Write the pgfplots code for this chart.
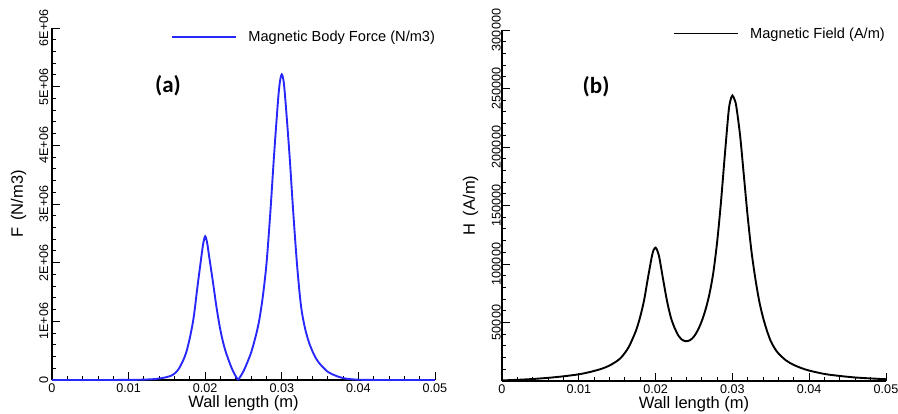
\documentclass[border=0pt]{standalone}
\usepackage{fontspec}
\setmainfont{Liberation Sans}
\newfontfamily\carlito{Carlito}
\usepackage{pgfplots}
\pgfplotsset{compat=1.18}
\definecolor{fblue}{RGB}{40,40,250}

\newcommand{\legfont}{\fontsize{14.6}{17}\selectfont}
\pgfplotsset{
 myaxis/.style={
  scale only axis,
  axis lines=left,
  axis line style={-, line width=1.3pt, black},
  tick align=inside,
  major tick length=8pt,
  minor tick length=4pt,
  tick style={black, line width=0.9pt},
  minor tick num=4,
  xmin=0, xmax=0.05,
  xtick={0,0.01,0.02,0.03,0.04,0.05},
  xticklabels={0,0.01,0.02,0.03,0.04,0.05},
  scaled x ticks=false, scaled y ticks=false,
  /pgf/number format/assume math mode=true,
  enlargelimits=false,
  clip=false,
  tick label style={font=\fontsize{12.6}{14}\selectfont},
  xticklabel style={inner sep=0pt, anchor=north, yshift=-3.8pt},
  yticklabel style={rotate=90, anchor=south, inner sep=0pt},
  legend style={draw=none, fill=none, inner sep=0pt, outer sep=0pt, column sep=11pt,
    font=\legfont, nodes={inner sep=0pt}},
  legend cell align=left,
 }
}

\pgfplotstableread{
x F
0 0
0.004 0
0.008 500
0.011 3000
0.013 12000
0.014 25000
0.015 50000
0.0155 70000
0.016 110000
0.0165 180000
0.017 300000
0.0175 460000
0.018 720000
0.0185 1070000
0.019 1600000
0.0195 2100000
0.01975 2330000
0.0200 2450000
0.02025 2340000
0.0205 2120000
0.021 1680000
0.0215 1220000
0.022 840000
0.0225 560000
0.023 360000
0.0235 190000
0.024 60000
0.0243 0
}\Fone

\pgfplotstableread{
x F
0.0243 0
0.0245 40000
0.025 150000
0.0255 300000
0.026 470000
0.0265 700000
0.027 980000
0.0275 1400000
0.028 1980000
0.0285 2850000
0.029 3850000
0.0295 4750000
0.02975 5080000
0.0300 5210000
0.03025 5080000
0.0305 4720000
0.031 3850000
0.0315 2850000
0.032 1950000
0.0325 1270000
0.033 900000
0.0335 660000
0.034 490000
0.0345 360000
0.035 270000
0.036 140000
0.037 75000
0.038 32000
0.039 14000
0.040 5000
0.042 800
0.046 0
0.050 0
}\Ftwo

\pgfplotstableread{
x H
0 500
0.002 1000
0.004 1700
0.006 2700
0.008 4000
0.010 5700
0.011 7000
0.012 8600
0.013 10500
0.014 13200
0.015 17200
0.0155 20000
0.016 24000
0.0165 29000
0.017 36000
0.0175 44000
0.018 55000
0.0185 69000
0.019 88000
0.0195 106000
0.01975 112000
0.020 114000
0.02025 111000
0.0205 105000
0.021 86000
0.0215 68000
0.022 54000
0.0225 45000
0.023 38500
0.0235 35000
0.024 34000
0.0245 35000
0.025 38000
0.0255 43500
0.026 51000
0.0265 61000
0.027 74000
0.0275 92000
0.028 118000
0.0285 152000
0.029 192000
0.0295 230000
0.02975 240000
0.030 244000
0.03025 241000
0.0305 235000
0.031 210000
0.0315 175000
0.032 140000
0.0325 110000
0.033 87000
0.0335 68000
0.034 54000
0.0345 43000
0.035 34000
0.0355 28000
0.036 23500
0.037 17500
0.038 13700
0.039 11000
0.040 8900
0.042 6000
0.044 4300
0.046 3000
0.048 2200
0.050 1500
}\Hdata

\begin{document}
\begin{tikzpicture}
\path[use as bounding box] (0,0) rectangle (898pt,414pt);

\begin{axis}[myaxis,
  at={(52pt,34pt)}, anchor=south west,
  width=383pt, height=352pt,
  ymin=0, ymax=6000000,
  ytick={0,1000000,2000000,3000000,4000000,5000000,6000000},
  yticklabels={0,1E+06,2E+06,3E+06,4E+06,5E+06,6E+06},
  yticklabel shift=3.5pt,
  every axis x label/.style={at={(axis description cs:0.5,-0.067)}, anchor=center, font=\fontsize{16.5}{19}\selectfont},
  every axis y label/.style={at={(axis description cs:-0.0875,0.5)}, rotate=90, anchor=center, font=\fontsize{16.5}{19}\selectfont},
  xlabel={Wall length (m)},
  ylabel={F \,(N/m3)},
  legend style={at={(rel axis cs:1,0.974)}, anchor=east},
  legend image code/.code={\draw[#1, line width=1.9pt] (0pt,0pt) -- (64pt,0pt);},
]
\addplot[fblue, line width=1.9pt, smooth] table[x=x, y=F] {\Fone};
\addlegendentry{\legfont Magnetic Body Force (N/m3)}
\addplot[fblue, line width=1.9pt, smooth, forget plot] table[x=x, y=F] {\Ftwo};
\node[font=\carlito\bfseries\fontsize{23}{26}\selectfont] at (rel axis cs:0.303,0.837) {(a)};
\end{axis}

\begin{axis}[myaxis,
  at={(502pt,33pt)}, anchor=south west,
  width=384pt, height=351pt,
  ymin=0, ymax=300000,
  ytick={0,50000,100000,150000,200000,250000,300000},
  yticklabels={,50000,100000,150000,200000,250000,300000},
  yticklabel shift=1pt,
  every axis x label/.style={at={(axis description cs:0.5,-0.066)}, anchor=center, font=\fontsize{16.5}{19}\selectfont},
  every axis y label/.style={at={(axis description cs:-0.082,0.5)}, rotate=90, anchor=center, font=\fontsize{16.5}{19}\selectfont},
  xlabel={Wall length (m)},
  ylabel={H \,(A/m)},
  legend style={at={(rel axis cs:0.997,0.99)}, anchor=east},
  legend image code/.code={\draw[black, line width=1.9pt] (0pt,0pt) -- (64pt,0pt);},
]
\addplot[black, line width=1.9pt, smooth] table[x=x, y=H] {\Hdata};
\addlegendentry{\legfont Magnetic Field (A/m)}
\node[font=\carlito\bfseries\fontsize{23}{26}\selectfont] at (rel axis cs:0.245,0.838) {(b)};
\end{axis}
\end{tikzpicture}
\end{document}
